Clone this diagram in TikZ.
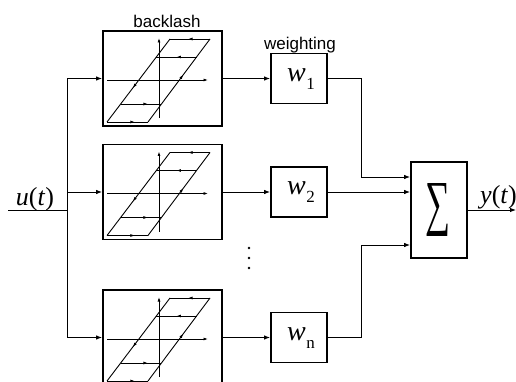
\documentclass[tikz,border=0pt]{standalone}
\usepackage{fontspec}
\setmainfont{Liberation Serif}
\newfontfamily\labelfont{Liberation Sans}
\usetikzlibrary{arrows.meta,decorations.markings}

\tikzset{
  blk/.style={draw, line width=1.8pt, minimum width=119pt, minimum height=95pt, inner sep=0pt},
  wbox/.style={draw, line width=1.8pt, minimum width=56pt, minimum height=50pt, inner sep=0pt},
  sumbox/.style={draw, line width=1.8pt, minimum width=56pt, minimum height=96pt, inner sep=0pt},
  wire/.style={line width=0.9pt},
  conn/.style={line width=0.9pt, -{Latex[length=6pt,width=4.5pt]}},
  axisline/.style={line width=0.8pt, -{Latex[length=4.5pt,width=3pt]}},
  loopline/.style={line width=0.9pt},
  midarr/.style={postaction={decorate}, decoration={markings,
      mark=at position #1 with {\arrow{Latex[length=4.5pt,width=3pt]}}}},
  lbl/.style={font=\labelfont\fontsize{17}{17}\selectfont, inner sep=0pt},
  mathlbl/.style={font=\fontsize{26}{26}\selectfont, inner sep=0pt},
  wlbl/.style={inner sep=0pt},
  % backlash hysteresis loop, drawn about the centre of its box
  backlash/.pic={
    \draw[axisline] (-55.5,1.5) -- (45.5,1.5);
    \draw[axisline] (-3.5,39.5) -- (-3.5,-40.5);
    \draw[loopline, midarr=0.68] (-55.5,43.5) -- (-14.5,43.5);
    \draw[loopline, midarr=0.57] (-14.5,43.5) -- (47.5,-39.5);
    \draw[loopline, midarr=0.55] (47.5,-39.5) -- (7.5,-39.5);
    \draw[loopline, midarr=0.59] (7.5,-39.5) -- (-55.5,43.5);
    \draw[loopline, midarr=0.5] (34.1,-21.5) -- (-6.2,-21.5);
    \draw[loopline, midarr=0.67] (-41.8,25.5) -- (-1.1,25.5);
  }
}

\newcommand{\wsym}[1]{{\fontsize{28}{28}\selectfont\textit{w}}\kern0.5pt\raisebox{-8pt}{\fontsize{17}{17}\selectfont #1}}

\begin{document}
\begin{tikzpicture}[x=1pt, y=-1pt]
  \useasboundingbox (0,0) rectangle (516,382);
  \clip (0,0) rectangle (516,382);

  % backlash blocks
  \node[blk] (bl1) at (162.5,78.5) {};
  \node[blk] (bl2) at (162.5,192) {};
  \node[blk] (bl3) at (162.5,337.5) {};
  \path (bl1.center) pic {backlash};
  \path (bl2.center) pic {backlash};
  \path (bl3.center) pic {backlash};

  % weighting blocks
  \node[wbox] (w1) at (299,78.5) {};
  \node[wbox] (w2) at (299,192) {};
  \node[wbox] (w3) at (299,337.5) {};
  \node[wlbl] (w1t) at (301,79) {\wsym{1}};
  \node[wlbl] (w2t) at (301,192.5) {\wsym{2}};
  \node[wlbl] (w3t) at (301,338) {\wsym{n}};

  % summation block
  \node[sumbox] (sum) at (439,210) {};
  \node[inner sep=0pt] (sigma) at (437.5,210) {\resizebox{25pt}{40pt}{∑}};

  % titles
  \node[lbl, anchor=base] (bltitle) at (167,28) {backlash};
  \node[lbl, anchor=base] (wtitle) at (300,49.5) {weighting};

  % input and output signals
  \node[mathlbl, anchor=base] (ulab) at (35,205) {\textit{u}(\textit{t})};
  \node[mathlbl, anchor=base] (ylab) at (498.5,203) {\textit{y}(\textit{t})};

  \coordinate (uin) at (8,210);
  \coordinate (bus) at (67,210);
  \coordinate (bustop) at (67,78.5);
  \coordinate (busbot) at (67,337.5);
  \coordinate (yout) at (516,210);

  \draw[wire] (uin) -- (bus);
  \draw[wire] (bustop) -- (busbot);
  \draw[conn] (bustop) -- (bl1.west);
  \draw[conn] (bustop |- bl2.west) -- (bl2.west);
  \draw[conn] (busbot) -- (bl3.west);

  \draw[conn] (bl1.east) -- (w1.west);
  \draw[conn] (bl2.east) -- (w2.west);
  \draw[conn] (bl3.east) -- (w3.west);

  \draw[conn] (w1.east) -- ++(34,0) |- ([yshift=33pt]sum.west);
  \draw[conn] (w2.east) -- (w2.east -| sum.west);
  \draw[conn] (w3.east) -- ++(34,0) |- ([yshift=-35pt]sum.west);

  \draw[conn] (sum.east) -- (yout);

  % vertical ellipsis between the branches
  \fill (249,248) circle (1.4pt);
  \fill (249,258) circle (1.4pt);
  \fill (249,268) circle (1.4pt);
\end{tikzpicture}
\end{document}
